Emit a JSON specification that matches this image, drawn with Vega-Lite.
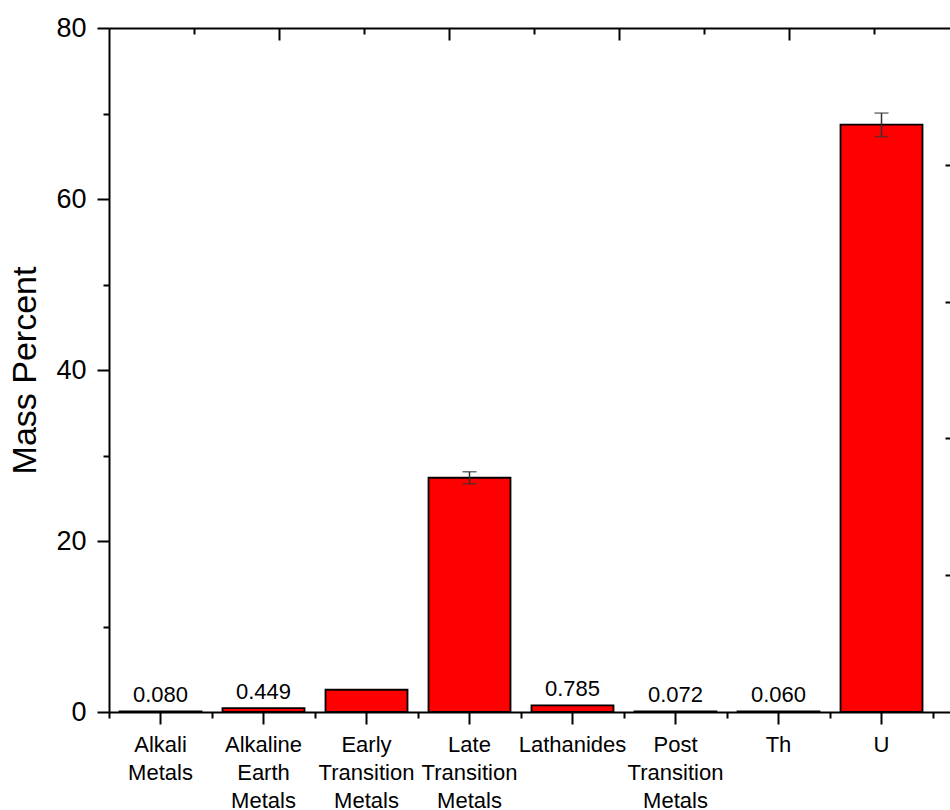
{
  "$schema": "https://vega.github.io/schema/vega-lite/v6.json",
  "width": 841,
  "height": 684,
  "autosize": {"type": "none"},
  "padding": {"left": 109, "top": 28, "right": 0, "bottom": 98},
  "config": {
    "view": {"stroke": null},
    "font": "Liberation Sans",
    "axis": {"domainColor": "black", "tickColor": "black", "labelColor": "black", "titleColor": "black", "domainWidth": 2, "tickWidth": 2, "grid": false}
  },
  "data": {
    "values": [
      {"cat": "Alkali Metals", "value": 0.080, "label": "0.080", "lo": null, "hi": null},
      {"cat": "Alkaline Earth Metals", "value": 0.449, "label": "0.449", "lo": null, "hi": null},
      {"cat": "Early Transition Metals", "value": 2.6, "label": null, "lo": null, "hi": null},
      {"cat": "Late Transition Metals", "value": 27.4, "label": null, "lo": 26.7, "hi": 28.1},
      {"cat": "Lathanides", "value": 0.785, "label": "0.785", "lo": null, "hi": null},
      {"cat": "Post Transition Metals", "value": 0.072, "label": "0.072", "lo": null, "hi": null},
      {"cat": "Th", "value": 0.060, "label": "0.060", "lo": null, "hi": null},
      {"cat": "U", "value": 68.7, "label": null, "lo": 67.3, "hi": 70.05}
    ]
  },
  "layer": [
    {
      "encoding": {
        "x": {
          "field": "cat", "type": "nominal", "sort": null,
          "scale": {"paddingInner": 0, "paddingOuter": 0.0825, "align": 0},
          "axis": {"orient": "bottom", "title": null, "labelAngle": 0, "labelExpr": "split(datum.label, ' ')", "labelFontSize": 22, "labelLineHeight": 28, "tickSize": 12, "labelPadding": 10, "labelBaseline": "top"}
        },
        "y": {
          "field": "value", "type": "quantitative",
          "scale": {"domain": [0, 80], "nice": false},
          "axis": {
            "orient": "left", "title": "Mass Percent",
            "values": [0, 10, 20, 30, 40, 50, 60, 70, 80],
            "labelExpr": "datum.value % 20 === 0 ? datum.label : ''",
            "tickSize": {"condition": {"test": "datum.value % 20 === 0", "value": 12}, "value": 6},
            "labelFontSize": 27, "labelPadding": 11,
            "titleFontSize": 34, "titleFontWeight": "normal", "titlePadding": 13
          }
        }
      },
      "layer": [
        {"mark": {"type": "bar", "fill": "#ff0000", "stroke": "black", "strokeWidth": 1.8, "width": {"band": 0.796}}},
        {
          "transform": [{"filter": "datum.lo != null"}],
          "mark": {"type": "rule", "color": "#333333", "strokeWidth": 1.5},
          "encoding": {"y": {"field": "lo", "type": "quantitative"}, "y2": {"field": "hi"}}
        },
        {
          "transform": [{"filter": "datum.lo != null"}],
          "mark": {"type": "tick", "color": "#333333", "thickness": 1.5, "size": 14},
          "encoding": {"y": {"field": "lo", "type": "quantitative"}}
        },
        {
          "transform": [{"filter": "datum.hi != null"}],
          "mark": {"type": "tick", "color": "#333333", "thickness": 1.5, "size": 14},
          "encoding": {"y": {"field": "hi", "type": "quantitative"}}
        },
        {
          "transform": [{"filter": "datum.label != null"}],
          "mark": {"type": "text", "fontSize": 22, "baseline": "alphabetic", "dy": -9, "color": "black"},
          "encoding": {"text": {"field": "label"}}
        }
      ]
    },
    {
      "mark": {"type": "point", "opacity": 0, "clip": true},
      "encoding": {
        "x": {
          "field": "value", "type": "quantitative",
          "scale": {"domain": [0, 8.165], "nice": false, "zero": false},
          "axis": {"orient": "bottom", "values": [0, 1, 2, 3, 4, 5, 6, 7, 8], "labels": false, "domain": false, "tickSize": 6, "title": null}
        }
      }
    },
    {
      "mark": {"type": "point", "opacity": 0, "clip": true},
      "encoding": {
        "x": {
          "field": "value", "type": "quantitative",
          "scale": {"domain": [0, 9.894], "nice": false, "zero": false},
          "axis": {"orient": "top", "values": [1, 2, 3, 4, 5, 6, 7, 8, 9], "labels": false, "domain": true, "title": null,
            "tickSize": {"condition": {"test": "datum.value % 2 === 0", "value": -12}, "value": -6}}
        },
        "y": {
          "field": "value", "type": "quantitative",
          "scale": {"domain": [0, 80], "nice": false, "zero": false},
          "axis": {"orient": "right", "values": [16, 32, 48, 64], "labels": false, "domain": false, "tickSize": -5, "title": null}
        }
      }
    }
  ],
  "resolve": {"scale": {"x": "independent", "y": "independent"}, "axis": {"x": "independent", "y": "independent"}}
}
